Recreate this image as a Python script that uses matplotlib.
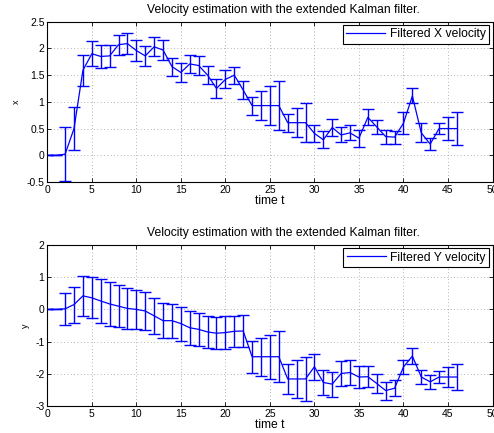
import matplotlib
matplotlib.use("Agg")
import matplotlib.pyplot as plt
import numpy as np

plt.rcParams['font.family'] = ['Liberation Sans', 'DejaVu Sans']

t = list(range(0, 47))

vx = [0.0, 0.0, 0.02, 0.5, 1.59, 1.9, 1.85, 1.86, 2.07, 2.09, 1.96, 1.86, 2.03, 1.97,
      1.66, 1.55, 1.71, 1.68, 1.5, 1.25, 1.42, 1.5, 1.22, 0.93, 0.93, 0.93, 0.93,
      0.61, 0.61, 0.61, 0.41, 0.29, 0.52, 0.38, 0.42, 0.32, 0.71, 0.53, 0.35, 0.34,
      0.6, 1.11, 0.42, 0.21, 0.5, 0.5, 0.5]
ex = [0.0, 0.0, 0.5, 0.41, 0.29, 0.23, 0.21, 0.2, 0.19, 0.19, 0.19, 0.18, 0.18, 0.18,
      0.17, 0.17, 0.17, 0.17, 0.17, 0.17, 0.17, 0.16, 0.17, 0.17, 0.27, 0.37, 0.46,
      0.17, 0.27, 0.37, 0.16, 0.16, 0.15, 0.14, 0.14, 0.16, 0.15, 0.13, 0.13, 0.12,
      0.21, 0.14, 0.18, 0.12, 0.11, 0.21, 0.31]

vy = [0.0, 0.0, 0.02, 0.15, 0.42, 0.36, 0.26, 0.17, 0.1, 0.03, 0.0, -0.05, -0.2, -0.35,
      -0.35, -0.44, -0.57, -0.62, -0.7, -0.74, -0.72, -0.68, -0.67, -1.47, -1.47,
      -1.47, -1.47, -2.16, -2.16, -2.16, -1.78, -2.27, -2.32, -1.99, -1.96, -2.1,
      -2.09, -2.3, -2.52, -2.45, -1.79, -1.45, -2.1, -2.25, -2.1, -2.1, -2.1]
ey = [0.0, 0.0, 0.5, 0.56, 0.61, 0.64, 0.67, 0.68, 0.65, 0.63, 0.6, 0.58, 0.56, 0.54,
      0.53, 0.53, 0.53, 0.51, 0.5, 0.5, 0.5, 0.49, 0.49, 0.49, 0.59, 0.69, 0.79,
      0.47, 0.58, 0.69, 0.41, 0.4, 0.39, 0.38, 0.38, 0.34, 0.33, 0.3, 0.28, 0.25,
      0.21, 0.25, 0.22, 0.22, 0.2, 0.32, 0.4]

title = "Velocity estimation with the extended Kalman filter."

W, H = 494, 433
fig = plt.figure(figsize=(W / 100, H / 100), dpi=100)

def make_ax(top, bottom):
    return fig.add_axes([47.3 / W, 1 - bottom / H, (492.5 - 47.3) / W, (bottom - top) / H])

ax1 = make_ax(21.7, 182)
ax2 = make_ax(245, 406)

def style(ax, vals, errs, ylim, yticks, ylabel, leg):
    ax.errorbar(t, vals, yerr=errs, color='#0000ff', lw=0.9, elinewidth=1.0,
                capsize=4.5, capthick=1.0, label=leg)
    ax.set_xlim(0, 50)
    ax.set_ylim(*ylim)
    ax.set_xticks(range(0, 51, 5))
    ax.set_yticks(yticks)
    ax.set_yticklabels([('%g' % v) for v in yticks])
    ax.grid(True, linestyle=(0, (1, 3)), color='#999999', lw=0.6)
    ax.tick_params(direction='in', top=True, right=True, labelsize=7.5, length=3,
                   width=0.6, pad=2)
    for s in ax.spines.values():
        s.set_linewidth(0.8)
    ax.set_title(title, fontsize=8.7, pad=6.5, x=0.531)
    ax.set_xlabel('time t', fontsize=8.7, labelpad=0.5)
    ax.set_ylabel(ylabel, fontsize=6.5, labelpad=4)
    lg = ax.legend(handles=[plt.Line2D([], [], color='#0000ff', lw=0.9)], labels=[leg],
                   loc='upper right', fontsize=8.7, fancybox=False, framealpha=1,
                   edgecolor='black', borderpad=0.3, handlelength=3.2,
                   borderaxespad=0.25, handletextpad=0.4)
    lg.get_frame().set_linewidth(0.8)

style(ax1, vx, ex, (-0.5, 2.5), [-0.5, 0, 0.5, 1, 1.5, 2, 2.5], 'x', 'Filtered X velocity')
style(ax2, vy, ey, (-3, 2), [-3, -2, -1, 0, 1, 2], 'y', 'Filtered Y velocity')

fig.savefig('out.png', dpi=100)
